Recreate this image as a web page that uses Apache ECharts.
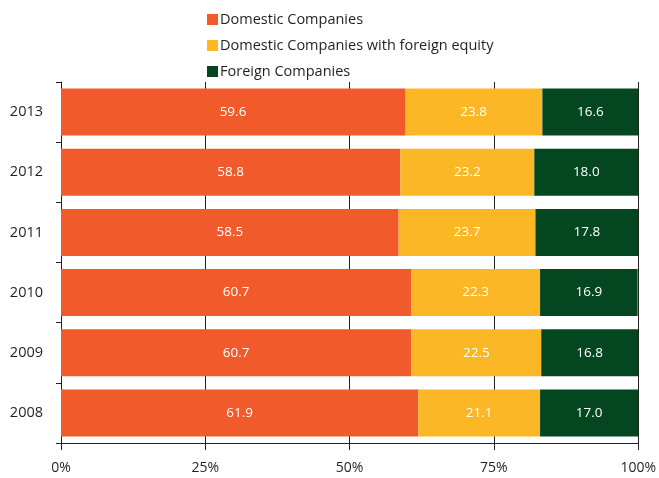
<!DOCTYPE html>
<html>
<head>
<meta charset="utf-8">
<script src="https://cdn.jsdelivr.net/npm/echarts@6/dist/echarts.min.js"></script>
<style>
  html, body { margin: 0; padding: 0; background: #fff; }
  #chart { width: 659px; height: 478px; }
</style>
</head>
<body>
<div id="chart"></div>
<script>
// Years, bottom to top
const years = ['2008', '2009', '2010', '2011', '2012', '2013'];
// Share of companies (%)
const domestic = [61.9, 60.7, 60.7, 58.5, 58.8, 59.6];
const domesticForeignEquity = [21.1, 22.5, 22.3, 23.7, 23.2, 23.8];
const foreign = [17.0, 16.8, 16.9, 17.8, 18.0, 16.6];
const seriesNames = ['Domestic Companies', 'Domestic Companies with foreign equity', 'Foreign Companies'];
const seriesColors = ['#f15a2b', '#fbb726', '#03461f'];
const xTicks = [0, 25, 50, 75, 100];

const font = '"Open Sans", "Noto Sans", sans-serif';
const lineColor = '#231f20';

function makeSeries(name, data, color) {
  return {
    name: name,
    type: 'bar',
    stack: 'total',
    data: data,
    barCategoryGap: '22%',
    itemStyle: { color: color },
    label: {
      show: true,
      position: 'inside',
      color: '#ffffff',
      fontSize: 13.5,
      fontFamily: font,
      formatter: p => p.value.toFixed(1)
    }
  };
}

const chart = echarts.init(document.getElementById('chart'), null, { renderer: 'canvas' });
chart.setOption({
  animation: false,
  backgroundColor: '#ffffff',
  legend: {
    orient: 'vertical',
    left: 202,
    top: 7,
    itemWidth: 11,
    itemHeight: 11,
    itemGap: 11,
    icon: 'rect',
    textStyle: { fontSize: 14.5, color: '#231f20', fontFamily: font, padding: [0, 0, 0, -3] },
    data: seriesNames
  },
  grid: { left: 61, right: 20, top: 82, bottom: 35, containLabel: false },
  xAxis: {
    type: 'value',
    min: xTicks[0],
    max: xTicks[xTicks.length - 1],
    interval: 25,
    axisLine: { show: true, lineStyle: { color: lineColor, width: 1 } },
    axisTick: { show: true, length: 7, lineStyle: { color: lineColor } },
    splitLine: { show: true, lineStyle: { color: lineColor, width: 1 } },
    axisLabel: {
      fontSize: 14, color: '#231f20', fontFamily: font, margin: 18,
      formatter: v => v + '%'
    }
  },
  yAxis: {
    type: 'category',
    data: years,
    axisLine: { show: true, lineStyle: { color: lineColor, width: 1 } },
    axisTick: { show: true, length: 5, lineStyle: { color: lineColor } },
    axisLabel: { fontSize: 14.5, color: '#231f20', fontFamily: font, margin: 18 }
  },
  series: [
    makeSeries(seriesNames[0], domestic, seriesColors[0]),
    makeSeries(seriesNames[1], domesticForeignEquity, seriesColors[1]),
    makeSeries(seriesNames[2], foreign, seriesColors[2])
  ]
});
</script>
</body>
</html>
